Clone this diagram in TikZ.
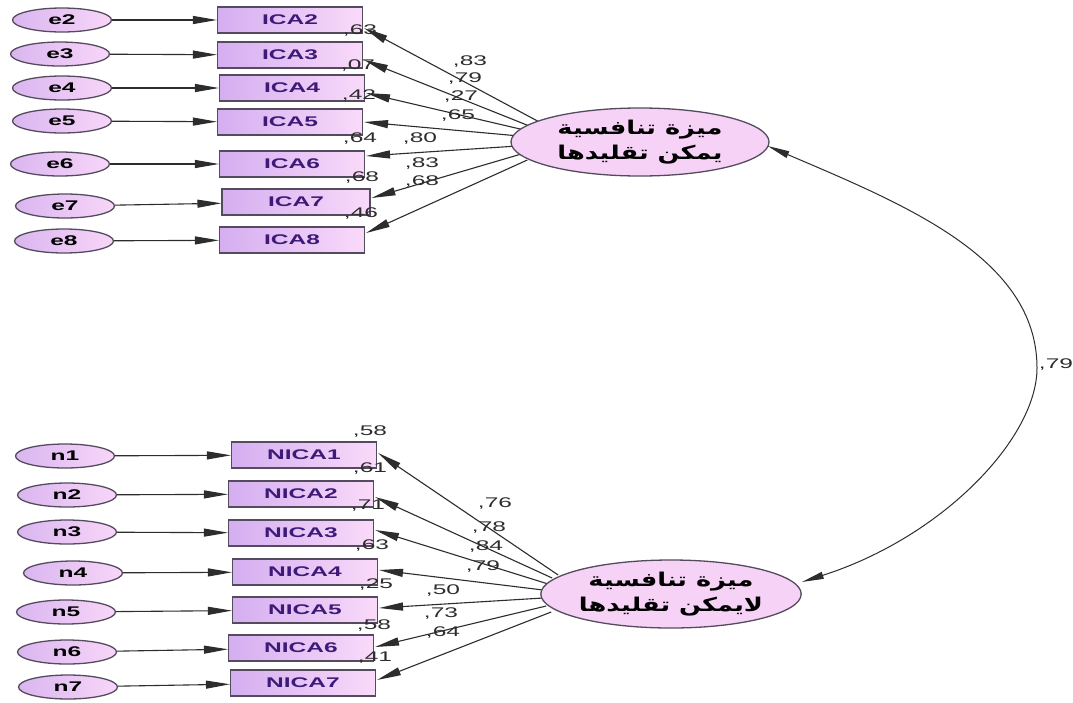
\documentclass[tikz,border=0pt]{standalone}
\usepackage{fontspec}
\setmainfont{Liberation Sans}[FakeStretch=1.75]
\newfontfamily\arabicfont[Script=Arabic,FakeStretch=1.35]{DejaVu Sans}
\TeXXeTstate=1
\usetikzlibrary{arrows.meta,calc,backgrounds,shapes.geometric}
\definecolor{errL}{RGB}{218,182,240}
\definecolor{errR}{RGB}{248,214,248}
\definecolor{boxL}{RGB}{212,174,240}
\definecolor{boxR}{RGB}{250,218,250}
\definecolor{latfill}{RGB}{246,210,246}
\definecolor{bordercol}{RGB}{85,75,95}
\definecolor{boxtext}{RGB}{62,26,120}
\definecolor{linecol}{RGB}{45,45,45}
\definecolor{numcol}{RGB}{45,45,45}
\begin{document}
\begin{tikzpicture}[x=1pt,y=-1pt,
  errnode/.style={ellipse, minimum width=99pt, minimum height=24pt, inner sep=0pt,
    draw=bordercol, line width=1.3pt, left color=errL, right color=errR,
    font=\fontsize{14}{16}\selectfont\bfseries},
  obsbox/.style={rectangle, minimum width=145pt, minimum height=26pt, inner sep=0pt,
    draw=bordercol, line width=1.1pt, left color=boxL, right color=boxR, text=boxtext,
    font=\fontsize{14}{16}\selectfont\bfseries},
  latent/.style={ellipse, minimum width=258pt, minimum height=68pt, inner sep=0pt,
    draw=bordercol, line width=1.3pt, fill=latfill, align=center,
    font=\arabicfont\bfseries\fontsize{19}{25}\selectfont},
  conn/.style={draw=linecol, line width=1.1pt, -{Triangle[length=24pt,width=8pt]}},
  num/.style={font=\fontsize{14}{16}\selectfont, text=numcol, inner sep=0pt}
]
\useasboundingbox (0,0) rectangle (1073,702);
\begin{pgfonlayer}{background}
\fill[white] (0,0) rectangle (1073,702);
\end{pgfonlayer}

% error ellipses (top)
\node[errnode] (e2) at (62,20) {e2};
\node[errnode] (e3) at (60,54) {e3};
\node[errnode] (e4) at (62,88) {e4};
\node[errnode] (e5) at (62,121) {e5};
\node[errnode] (e6) at (60,164) {e6};
\node[errnode] (e7) at (65,206) {e7};
\node[errnode] (e8) at (64,241) {e8};
% observed boxes (top)
\node[obsbox] (ICA2) at (290,20) {ICA2};
\node[obsbox] (ICA3) at (290,55) {ICA3};
\node[obsbox] (ICA4) at (292,88) {ICA4};
\node[obsbox] (ICA5) at (290,122) {ICA5};
\node[obsbox] (ICA6) at (292,164) {ICA6};
\node[obsbox, minimum width=148pt] (ICA7) at (296,202) {ICA7};
\node[obsbox] (ICA8) at (292,240) {ICA8};
% error ellipses (bottom)
\node[errnode] (n1) at (65,456) {n1};
\node[errnode] (n2) at (67,495) {n2};
\node[errnode] (n3) at (67,532) {n3};
\node[errnode] (n4) at (73,573) {n4};
\node[errnode] (n5) at (66,612) {n5};
\node[errnode] (n6) at (67,652) {n6};
\node[errnode] (n7) at (68,687) {n7};
% observed boxes (bottom)
\node[obsbox] (NICA1) at (304,455) {NICA1};
\node[obsbox] (NICA2) at (301,494) {NICA2};
\node[obsbox] (NICA3) at (301,533) {NICA3};
\node[obsbox] (NICA4) at (305,572) {NICA4};
\node[obsbox] (NICA5) at (305,610) {NICA5};
\node[obsbox] (NICA6) at (301,648) {NICA6};
\node[obsbox] (NICA7) at (303,683) {NICA7};
% latent factors
\node[latent] (F1) at (640,142) {\beginR ميزة تنافسية\endR\\\beginR يمكن تقليدها\endR};
\node[latent, minimum width=252pt] (F2) at (671,594) {\beginR ميزة تنافسية\endR\\\beginR لايمكن تقليدها\endR};

\begin{pgfonlayer}{background}
% error arrows
\foreach \a/\b in {e2/ICA2,e3/ICA3,e4/ICA4,e5/ICA5,e6/ICA6,e7/ICA7,e8/ICA8,
                   n1/NICA1,n2/NICA2,n3/NICA3,n4/NICA4,n5/NICA5,n6/NICA6,n7/NICA7}
  \draw[conn] (\a) -- (\b);
% loadings top
\draw[conn] ($(F1.west)+(29,-20)$) -- ($(ICA2.east)+(1,8)$);
\draw[conn] ($(F1.west)+(19,-16)$) -- ($(ICA3.east)+(1,5)$);
\draw[conn] ($(F1.west)+(14,-12)$) -- ($(ICA4.east)+(1,5)$);
\draw[conn] ($(F1.west)+(9,-6)$) -- ($(ICA5.east)+(1,0)$);
\draw[conn] ($(F1.west)+(7,4)$) -- ($(ICA6.east)+(1,-8)$);
\draw[conn] ($(F1.west)+(11,12)$) -- ($(ICA7.east)+(1,-4)$);
\draw[conn] ($(F1.west)+(17,18)$) -- ($(ICA8.east)+(1,-7)$);
% loadings bottom
\draw[conn] ($(F2.west)+(18,-19)$) -- ($(NICA1.east)+(1,-2)$);
\draw[conn] ($(F2.west)+(12,-16)$) -- ($(NICA2.east)+(1,3)$);
\draw[conn] ($(F2.west)+(8,-10)$) -- ($(NICA3.east)+(1,-3)$);
\draw[conn] ($(F2.west)+(3,-4)$) -- ($(NICA4.east)+(1,-2)$);
\draw[conn] ($(F2.west)+(3,4)$) -- ($(NICA5.east)+(1,-2)$);
\draw[conn] ($(F2.west)+(6,12)$) -- ($(NICA6.east)+(1,-1)$);
\draw[conn] ($(F2.west)+(11,18)$) -- ($(NICA7.east)+(1,-3)$);
\end{pgfonlayer}

% covariance
\coordinate (cm) at (1037,368);
\draw[draw=linecol, line width=1pt, {Triangle[length=22pt,width=7pt]}-{Triangle[length=22pt,width=7pt]}]
  ($(F1.east)+(-2,4)$) .. controls +(138,59) and +(0,-110) .. (cm)
  .. controls +(0,70) and +(141,-45) .. ($(F2.east)+(0,-12)$);
\node[num] (cov) at (1056,364) {,79};

% R^2 labels top
\node[num] (r1) at (360,31) {,63};
\node[num] (r2) at (358,66) {,07};
\node[num] (r3) at (359,96) {,42};
\node[num] (r4) at (360,139) {,64};
\node[num] (r5) at (362,178) {,68};
\node[num] (r6) at (361,214) {,46};
% loading labels top
\node[num] (l1) at (470,62) {,83};
\node[num] (l2) at (465,79) {,79};
\node[num] (l3) at (461,97) {,27};
\node[num] (l4) at (458,116) {,65};
\node[num] (l5) at (420,139) {,80};
\node[num] (l6) at (422,164) {,83};
\node[num] (l7) at (422,182) {,68};
% R^2 labels bottom
\node[num] (s1) at (370,431) {,58};
\node[num] (s2) at (370,468) {,61};
\node[num] (s3) at (368,506) {,71};
\node[num] (s4) at (372,545) {,63};
\node[num] (s5) at (376,584) {,25};
\node[num] (s6) at (374,625) {,58};
\node[num] (s7) at (375,658) {,41};
% loading labels bottom
\node[num] (m1) at (495,503) {,76};
\node[num] (m2) at (489,527) {,78};
\node[num] (m3) at (486,546) {,84};
\node[num] (m4) at (483,566) {,79};
\node[num] (m5) at (443,590) {,50};
\node[num] (m6) at (441,613) {,73};
\node[num] (m7) at (443,632) {,64};
\end{tikzpicture}
\end{document}
